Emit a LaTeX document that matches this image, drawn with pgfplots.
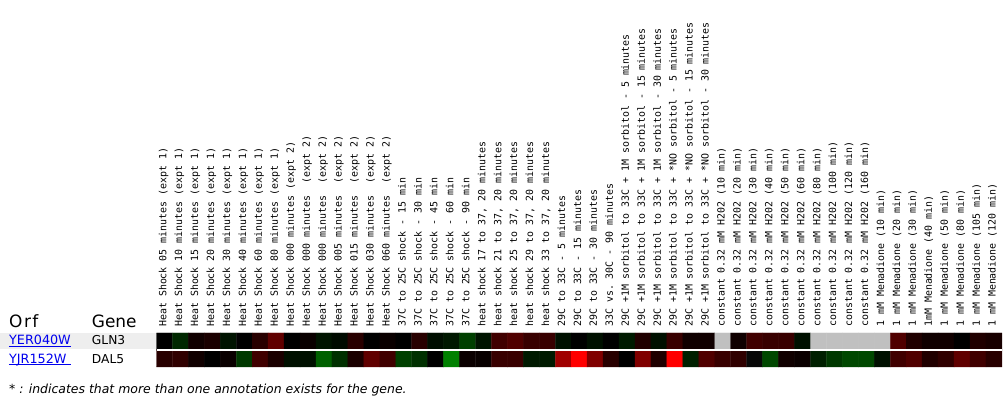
\documentclass[border=0pt]{standalone}
\usepackage{fontspec}
\setmainfont{DejaVu Sans}
\setmonofont{DejaVu Sans Mono}
\usepackage{pgfplots}
\pgfplotsset{compat=1.18}
\usepackage{pgfplotstable}
\definecolor{linkblue}{RGB}{0,0,238}
\definecolor{rowgray}{RGB}{238,238,238}
\pgfplotstableread{
x y c
1 1 rgb=0,0,0
2 1 rgb=0,0.157,0
3 1 rgb=0.063,0,0
4 1 rgb=0.102,0,0
5 1 rgb=0,0.078,0
6 1 rgb=0,0,0
7 1 rgb=0.157,0,0
8 1 rgb=0.376,0,0
9 1 rgb=0,0,0
10 1 rgb=0.039,0,0
11 1 rgb=0,0.078,0
12 1 rgb=0,0.039,0
13 1 rgb=0.157,0,0
14 1 rgb=0,0,0
15 1 rgb=0.039,0,0
16 1 rgb=0,0,0
17 1 rgb=0.157,0,0
18 1 rgb=0,0.055,0
19 1 rgb=0,0.094,0
20 1 rgb=0,0.251,0
21 1 rgb=0,0.078,0
22 1 rgb=0.251,0,0
23 1 rgb=0.314,0,0
24 1 rgb=0.22,0,0
25 1 rgb=0.22,0,0
26 1 rgb=0,0.063,0
27 1 rgb=0,0,0
28 1 rgb=0,0.063,0
29 1 rgb=0,0,0
30 1 rgb=0,0.102,0
31 1 rgb=0.125,0,0
32 1 rgb=0,0.063,0
33 1 rgb=0.22,0,0
34 1 rgb=0.063,0,0
35 1 rgb=0.063,0,0
36 1 rgb=0.753,0.753,0.753
37 1 rgb=0.063,0,0
38 1 rgb=0.251,0,0
39 1 rgb=0.22,0,0
40 1 rgb=0.22,0,0
41 1 rgb=0,0.063,0
42 1 rgb=0.753,0.753,0.753
43 1 rgb=0.753,0.753,0.753
44 1 rgb=0.753,0.753,0.753
45 1 rgb=0.753,0.753,0.753
46 1 rgb=0.753,0.753,0.753
47 1 rgb=0.314,0,0
48 1 rgb=0.125,0,0
49 1 rgb=0.063,0,0
50 1 rgb=0.063,0,0
51 1 rgb=0,0,0
52 1 rgb=0.125,0,0
53 1 rgb=0.094,0,0
1 2 rgb=0.157,0,0
2 2 rgb=0.188,0,0
3 2 rgb=0.063,0,0
4 2 rgb=0,0,0
5 2 rgb=0.039,0,0
6 2 rgb=0,0.22,0
7 2 rgb=0.251,0,0
8 2 rgb=0.102,0,0
9 2 rgb=0,0.063,0
10 2 rgb=0,0.063,0
11 2 rgb=0,0.376,0
12 2 rgb=0,0.188,0
13 2 rgb=0.102,0,0
14 2 rgb=0.376,0,0
15 2 rgb=0.251,0,0
16 2 rgb=0,0.251,0
17 2 rgb=0,0.188,0
18 2 rgb=0,0,0
19 2 rgb=0,0.5,0
20 2 rgb=0.039,0,0
21 2 rgb=0.031,0,0
22 2 rgb=0.22,0,0
23 2 rgb=0.22,0,0
24 2 rgb=0,0.102,0
25 2 rgb=0,0.102,0
26 2 rgb=0.627,0,0
27 2 rgb=1,0,0
28 2 rgb=0.502,0,0
29 2 rgb=0.157,0,0
30 2 rgb=0,0,0
31 2 rgb=0.502,0,0
32 2 rgb=0.125,0,0
33 2 rgb=1,0,0
34 2 rgb=0,0.125,0
35 2 rgb=0.314,0,0
36 2 rgb=0.22,0,0
37 2 rgb=0.188,0,0
38 2 rgb=0.031,0.031,0.031
39 2 rgb=0,0.282,0
40 2 rgb=0.063,0,0
41 2 rgb=0.039,0,0
42 2 rgb=0,0.125,0
43 2 rgb=0,0.22,0
44 2 rgb=0,0.282,0
45 2 rgb=0,0.282,0
46 2 rgb=0,0.063,0
47 2 rgb=0.251,0,0
48 2 rgb=0.314,0,0
49 2 rgb=0.125,0,0
50 2 rgb=0.188,0,0
51 2 rgb=0.376,0,0
52 2 rgb=0.251,0,0
53 2 rgb=0.157,0,0
}\heatdata
\begin{document}
\begin{tikzpicture}
\begin{scope}[x=1pt,y=-1pt]
\path[use as bounding box, fill=white] (0,0) rectangle (1003,400);
\clip (0,0) rectangle (1003,400);
\fill[rowgray] (0,334) rectangle (157,350);
\node[anchor=base west, inner sep=0, font=\fontsize{17}{20}\selectfont] at (9,329) {O\kern1.5pt r\kern1.5pt f};
\node[anchor=base west, inner sep=0, font=\fontsize{17}{20}\selectfont] at (92,329) {Gene};
\node[anchor=base west, inner sep=0, font=\fontsize{12.8}{15}\selectfont, text=linkblue] at (9,346) {YER040W};
\draw[linkblue, line width=1pt] (9,347.6) -- (71,347.6);
\node[anchor=base west, inner sep=0, font=\fontsize{12.3}{15}\selectfont] at (92,346) {GLN3};
\node[anchor=base west, inner sep=0, font=\fontsize{12.8}{15}\selectfont, text=linkblue] at (9,364.5) {YJR152W};
\draw[linkblue, line width=1pt] (9,366.1) -- (71,366.1);
\node[anchor=base west, inner sep=0, font=\fontsize{12.3}{15}\selectfont] at (92,364.5) {DAL5};
\node[anchor=base west, inner sep=0, font=\fontsize{12.5}{14}\selectfont\itshape] at (9,394.5) {* : indicates that more than one annotation exists for the gene.};
\end{scope}
\begin{axis}[
  at={(157pt,-334pt)}, anchor=north west,
  scale only axis, width=848pt, height=34pt,
  xmin=0.5, xmax=53.5, ymin=0.5, ymax=2.5, y dir=reverse,
  axis line style={draw=none}, major tick length=0pt,
  ytick=\empty,
  xtick={1,...,53},
  xticklabel pos=upper,
  xticklabel style={xshift=1.8pt, yshift=6pt, rotate=90, anchor=base west, inner sep=0pt, font=\ttfamily\fontsize{9.95}{10}\selectfont},
  xticklabels={
  {Heat Shock 05 minutes (expt 1)},
  {Heat Shock 10 minutes (expt 1)},
  {Heat Shock 15 minutes (expt 1)},
  {Heat Shock 20 minutes (expt 1)},
  {Heat Shock 30 minutes (expt 1)},
  {Heat Shock 40 minutes (expt 1)},
  {Heat Shock 60 minutes (expt 1)},
  {Heat Shock 80 minutes (expt 1)},
  {Heat Shock 000 minutes (expt 2)},
  {Heat Shock 000 minutes~~(expt 2)},
  {Heat Shock 000 minutes~~(expt 2)},
  {Heat Shock 005 minutes~~(expt 2)},
  {Heat Shock 015 minutes~~(expt 2)},
  {Heat Shock 030 minutes~~(expt 2)},
  {Heat Shock 060 minutes~~(expt 2)},
  {37C to 25C shock - 15 min},
  {37C to 25C shock - 30 min},
  {37C to 25C shock - 45 min},
  {37C to 25C shock - 60 min},
  {37C to 25C shock - 90 min},
  {heat shock 17 to 37, 20 minutes},
  {heat shock 21 to 37, 20 minutes},
  {heat shock 25 to 37, 20 minutes},
  {heat shock 29 to 37, 20 minutes},
  {heat shock 33 to 37, 20 minutes},
  {29C to 33C - 5 minutes},
  {29C to 33C - 15 minutes},
  {29C to 33C - 30 minutes},
  {33C vs. 30C - 90 minutes},
  {29C +1M sorbitol to 33C + 1M sorbitol - 5 minutes},
  {29C +1M sorbitol to 33C + 1M sorbitol - 15 minutes},
  {29C +1M sorbitol to 33C + 1M sorbitol - 30 minutes},
  {29C +1M sorbitol to 33C + *NO sorbitol - 5 minutes},
  {29C +1M sorbitol to 33C + *NO sorbitol - 15 minutes},
  {29C +1M sorbitol to 33C + *NO sorbitol - 30 minutes},
  {constant 0.32 mM H202 (10 min)},
  {constant 0.32 mM H202 (20 min)},
  {constant 0.32 mM H202 (30 min)},
  {constant 0.32 mM H202 (40 min)},
  {constant 0.32 mM H202 (50 min)},
  {constant 0.32 mM H202 (60 min)},
  {constant 0.32 mM H202 (80 min)},
  {constant 0.32 mM H202 (100 min)},
  {constant 0.32 mM H202 (120 min)},
  {constant 0.32 mM H202 (160 min)},
  {1 mM Menadione (10 min)},
  {1 mM Menadione (20 min)},
  {1 mM Menadione (30 min)},
  {1mM Menadione (40 min)},
  {1 mM Menadione (50 min)},
  {1 mM Menadione (80 min)},
  {1 mM Menadione (105 min)},
  {1 mM Menadione (120 min)}
  },
  clip=false,
]
\addplot[matrix plot*, mesh/cols=53, mesh/color input=explicit, point meta=explicit symbolic] table[x=x, y=y, meta=c] {\heatdata};
\draw[white, line width=2.2pt] (axis cs:0.5,1.5) -- (axis cs:53.5,1.5);
\end{axis}
\end{tikzpicture}
\end{document}
